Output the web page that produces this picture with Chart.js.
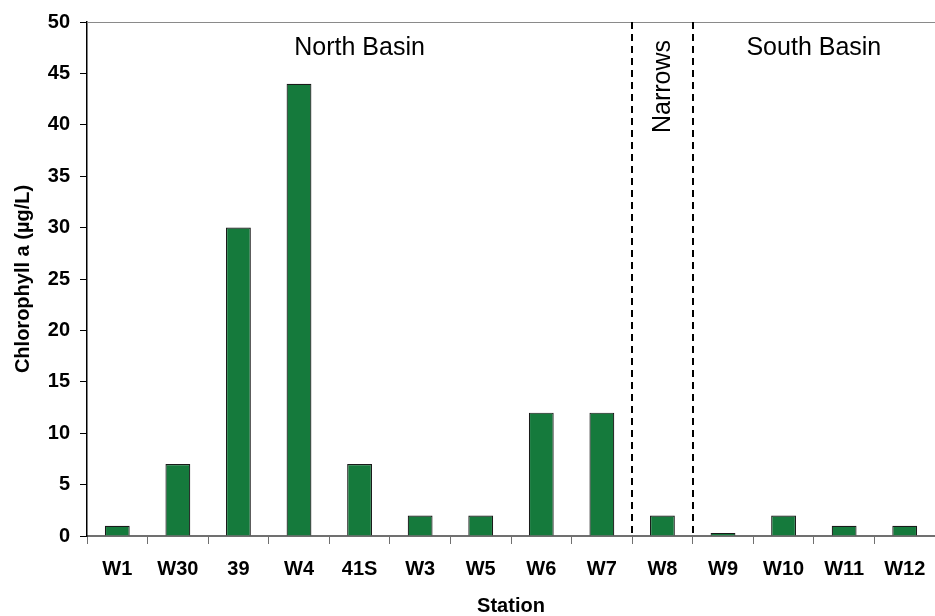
<!DOCTYPE html>
<html>
<head>
<meta charset="utf-8">
<script src="https://cdn.jsdelivr.net/npm/chart.js@4/dist/chart.umd.min.js"></script>
<style>
  html, body { margin: 0; padding: 0; background: #fff; }
  #wrap { width: 935px; height: 616px; }
</style>
</head>
<body>
<div id="wrap"><canvas id="chlChart" width="935" height="616"></canvas></div>
<script>
// DATA
const stations = ["W1", "W30", "39", "W4", "41S", "W3", "W5", "W6", "W7", "W8", "W9", "W10", "W11", "W12"];
const chlorophyll = [1, 7, 30, 44, 7, 2, 2, 12, 12, 2, 0.3, 2, 1, 1];
const yTicks = [0, 5, 10, 15, 20, 25, 30, 35, 40, 45, 50];
// basin name, first station index, last station index
const basinNames = ["North Basin", "Narrows", "South Basin"];
const basinStart = [0, 9, 10];
const basinEnd = [8, 9, 13];

const axisFont = { family: "'Liberation Sans', Arial, sans-serif", size: 20, weight: "bold" };

// dashed separators + basin labels
const basinPlugin = {
  id: "basins",
  afterDatasetsDraw(chart) {
    const { ctx, chartArea, scales } = chart;
    const x = scales.x;
    const edge = (i) => (x.getPixelForValue(i) + x.getPixelForValue(i + 1)) / 2;

    ctx.save();
    // top border
    ctx.strokeStyle = "#8a8a8a";
    ctx.lineWidth = 1;
    ctx.beginPath();
    ctx.moveTo(chartArea.left, chartArea.top + 0.5);
    ctx.lineTo(chartArea.right, chartArea.top + 0.5);
    ctx.stroke();

    // dashed lines between regions
    ctx.strokeStyle = "#000";
    ctx.lineWidth = 2;
    ctx.setLineDash([7, 5]);
    for (let b = 0; b < basinNames.length - 1; b++) {
      const px = Math.round(edge(basinEnd[b]));
      ctx.beginPath();
      ctx.moveTo(px, chartArea.top);
      ctx.lineTo(px, chartArea.bottom);
      ctx.stroke();
    }
    ctx.setLineDash([]);

    // labels
    ctx.fillStyle = "#000";
    ctx.font = "25px 'Liberation Sans', Arial, sans-serif";
    ctx.textBaseline = "alphabetic";
    basinNames.forEach((name, b) => {
      const l = basinStart[b] === 0 ? chartArea.left : edge(basinStart[b] - 1);
      const r = basinEnd[b] === stations.length - 1 ? chartArea.right : edge(basinEnd[b]);
      const cx = (l + r) / 2;
      if (basinStart[b] === basinEnd[b]) {
        ctx.save();
        ctx.translate(cx + 8, chartArea.top + 111);
        ctx.rotate(-Math.PI / 2);
        ctx.textAlign = "left";
        ctx.fillText(name, 0, 0);
        ctx.restore();
      } else {
        ctx.textAlign = "center";
        ctx.fillText(name, cx, chartArea.top + 33);
      }
    });
    ctx.restore();
  }
};

new Chart(document.getElementById("chlChart"), {
  type: "bar",
  data: {
    labels: stations,
    datasets: [{
      label: "Chlorophyll a",
      data: chlorophyll,
      backgroundColor: "#157a3c",
      borderColor: "#1a1a1a",
      borderWidth: 1.2,
      barPercentage: 0.41,
      categoryPercentage: 1
    }]
  },
  options: {
    responsive: false,
    animation: false,
    layout: { padding: { top: 19, right: 0, left: 0, bottom: 0 } },
    plugins: {
      legend: { display: false },
      tooltip: { enabled: false }
    },
    scales: {
      x: {
        afterFit: (s) => { s.height = 80; },
        border: { color: "#707070", width: 2 },
        grid: { drawOnChartArea: false, tickLength: 8, color: "#707070", offset: true },
        ticks: { color: "#000", font: { ...axisFont, lineHeight: 1.6 }, padding: 9, maxRotation: 0 },
        title: {
          display: true,
          text: "Station",
          color: "#000",
          font: { family: axisFont.family, size: 20, weight: "bold", lineHeight: 1 },
          padding: { top: 0, bottom: 0 }
        }
      },
      y: {
        min: 0,
        max: 50,
        afterFit: (s) => { s.width = 87; },
        afterBuildTicks: (s) => { s.ticks = yTicks.map(v => ({ value: v })); },
        border: { color: "#000", width: 1.5 },
        grid: { drawOnChartArea: false, tickLength: 7, color: "#000" },
        ticks: { color: "#000", font: axisFont, padding: 10 },
        title: {
          display: true,
          text: "Chlorophyll a (µg/L)",
          color: "#000",
          font: { family: axisFont.family, size: 20, weight: "bold", lineHeight: 1.2 },
          padding: { top: 11, bottom: 0 }
        }
      }
    }
  },
  plugins: [basinPlugin]
});
</script>
</body>
</html>
